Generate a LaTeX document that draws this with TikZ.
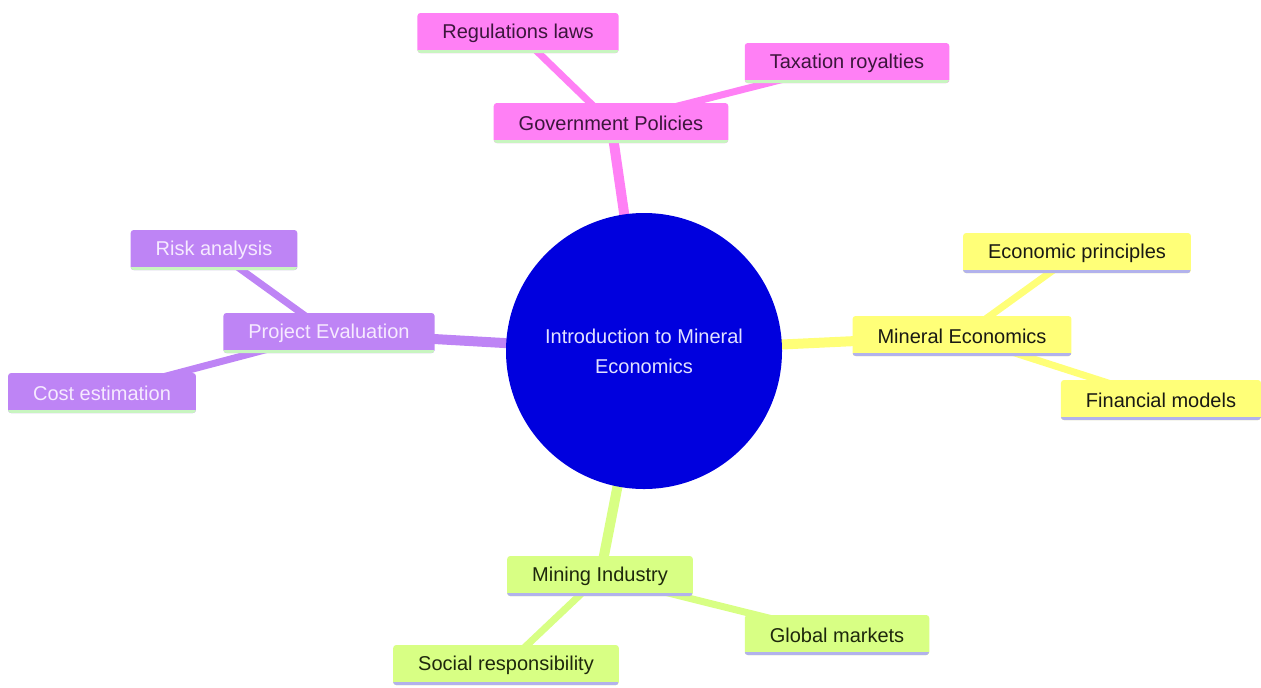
\documentclass[tikz,border=0pt]{standalone}
\usepackage{fontspec}
\setmainfont{Liberation Sans}
\usetikzlibrary{backgrounds}
\definecolor{govpink}{RGB}{255,128,245}
\definecolor{evalpurple}{RGB}{190,132,245}
\definecolor{econyellow}{RGB}{255,255,120}
\definecolor{minegreen}{RGB}{216,255,132}
\definecolor{rootblue}{RGB}{0,0,222}
\definecolor{lineGreen}{RGB}{200,245,192}
\definecolor{lineLav}{RGB}{178,178,236}
\begin{document}
\begin{tikzpicture}[x=0.5pt, y=-0.5pt,
   every node/.style={font=\fontsize{10}{15}\selectfont},
   box/.style={rounded corners=1.5pt, minimum height=20pt, inner xsep=12.5pt, inner ysep=0pt},
   underline/.style={path picture={\draw[line width=3pt, #1]
       (path picture bounding box.south west) -- (path picture bounding box.south east);}},
   gov/.style={box, fill=govpink, text={rgb,255:red,60;green,22;blue,60}, underline=lineGreen},
   eval/.style={box, fill=evalpurple, text={rgb,255:red,246;green,234;blue,255}, underline=lineGreen},
   econ/.style={box, fill=econyellow, text={rgb,255:red,25;green,25;blue,20}, underline=lineLav},
   mine/.style={box, fill=minegreen, text={rgb,255:red,30;green,40;blue,12}, underline=lineLav},
   trunk/.style={line width=5pt},
   twig/.style={line width=3.5pt}]

\useasboundingbox (0,0) rectangle (1261,687);

\node[circle, fill=rootblue, minimum size=138pt, align=center,
      text={rgb,255:red,225;green,225;blue,255}] (root) at (644,351)
      {Introduction to Mineral\\Economics};

\node[gov] (policies) at (611,123) {Government Policies};
\node[gov] (laws) at (518,33) {Regulations laws};
\node[gov] (tax) at (847,63) {Taxation royalties};

\node[econ] (mineral) at (962,336) {Mineral Economics};
\node[econ] (principles) at (1077,253) {Economic principles};
\node[econ] (models) at (1161,400) {Financial models};

\node[eval] (project) at (329,333) {Project Evaluation};
\node[eval] (risk) at (214,250) {Risk analysis};
\node[eval] (cost) at (102,393) {Cost estimation};

\node[mine] (industry) at (600,576) {Mining Industry};
\node[mine] (markets) at (837,635) {Global markets};
\node[mine] (social) at (506,665) {Social responsibility};

\begin{scope}[on background layer]
  \draw[trunk, govpink] (root.center) -- (policies.center);
  \draw[twig, govpink] (policies.center) -- (laws.center);
  \draw[twig, govpink] (policies.center) -- (tax.center);

  \draw[trunk, econyellow] (root.center) -- (mineral.center);
  \draw[twig, econyellow] (mineral.center) -- (principles.center);
  \draw[twig, econyellow] (mineral.center) -- (models.center);

  \draw[trunk, evalpurple] (root.center) -- (project.center);
  \draw[twig, evalpurple] (project.center) -- (risk.center);
  \draw[twig, evalpurple] (project.center) -- (cost.center);

  \draw[trunk, minegreen] (root.center) -- (industry.center);
  \draw[twig, minegreen] (industry.center) -- (markets.center);
  \draw[twig, minegreen] (industry.center) -- (social.center);
\end{scope}

\end{tikzpicture}
\end{document}
